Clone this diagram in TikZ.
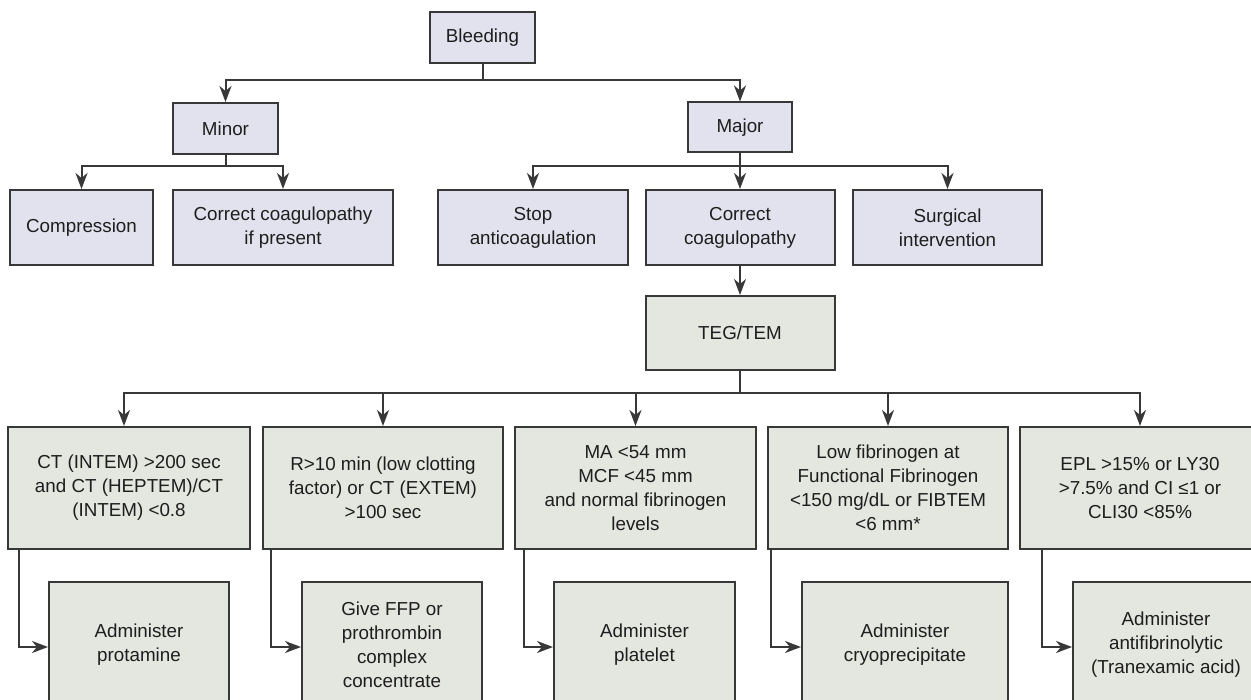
\documentclass[tikz,border=0pt]{standalone}
\usepackage{fontspec}
\setmainfont{Liberation Sans}
\usetikzlibrary{arrows.meta}
\definecolor{topfill}{HTML}{E2E2EE}
\definecolor{lowfill}{HTML}{E4E6E0}
\definecolor{edge}{HTML}{383838}
\definecolor{txt}{HTML}{1E1E1E}
\tikzset{
  basebox/.style={draw=edge, line width=2pt, rectangle, align=center, inner sep=2pt,
    text=txt, font=\fontsize{18.8}{24}\selectfont},
  topbox/.style={basebox, fill=topfill},
  lowbox/.style={basebox, fill=lowfill},
  conn/.style={draw=edge, line width=2pt},
  arr/.style={conn, -{Stealth[length=16pt,width=12pt,inset=5pt]}}
}
\begin{document}
\begin{tikzpicture}[x=1pt,y=-1pt]
\useasboundingbox (0,0) rectangle (1251,700);
\clip (0,0) rectangle (1251,700);
% top level
\node[topbox, minimum width=105, minimum height=51] (bleed) at (482.5,37.5) {Bleeding};
\node[topbox, minimum width=105, minimum height=51] (minor) at (225.5,128.5) {Minor};
\node[topbox, minimum width=104, minimum height=50] (major) at (740,127.5) {Major};
% second level
\node[topbox, minimum width=143, minimum height=75] (compr) at (81.5,227.5) {Compression};
\node[topbox, minimum width=220, minimum height=75] (ccif) at (283,227.5) {Correct coagulopathy\\if present};
\node[topbox, minimum width=190, minimum height=75] (stop) at (533,227.5) {Stop\\anticoagulation};
\node[topbox, minimum width=189, minimum height=75] (ccor) at (740,227.5) {Correct\\coagulopathy};
\node[topbox, minimum width=189, minimum height=75] (surg) at (947.5,227.5) {Surgical\\intervention};
% TEG
\node[lowbox, minimum width=189, minimum height=74] (teg) at (740,333) {TEG/TEM};
% criteria
\node[lowbox, minimum width=242, minimum height=122] (c1) at (129,488) {CT (INTEM) >200 sec\\and CT (HEPTEM)/CT\\(INTEM) <0.8};
\node[lowbox, minimum width=240, minimum height=122] (c2) at (383,488) {R>10 min (low clotting\\factor) or CT (EXTEM)\\>100 sec};
\node[lowbox, minimum width=241, minimum height=122] (c3) at (635.5,488) {MA <54 mm\\MCF <45 mm\\and normal fibrinogen\\levels};
\node[lowbox, minimum width=240, minimum height=122] (c4) at (888,488) {Low fibrinogen at\\Functional Fibrinogen\\<150 mg/dL or FIBTEM\\<6 mm*};
\node[lowbox, minimum width=240, minimum height=122] (c5) at (1140,488) {EPL >15\% or LY30\\>7.5\% and CI ≤1 or\\CLI30 <85\%};
% actions
\node[lowbox, minimum width=180, minimum height=126] (a1) at (139,645) {Administer\\protamine};
\node[lowbox, minimum width=180, minimum height=126] (a2) at (392,645) {Give FFP or\\prothrombin\\complex\\concentrate};
\node[lowbox, minimum width=181, minimum height=126] (a3) at (644.5,645) {Administer\\platelet};
\node[lowbox, minimum width=206, minimum height=126] (a4) at (905,645) {Administer\\cryoprecipitate};
\node[lowbox, minimum width=186, minimum height=126] (a5) at (1166,645) {Administer\\antifibrinolytic\\(Tranexamic acid)};
% connectors
\coordinate (j1) at (482.5,80);
\draw[conn] (bleed.south) -- (j1);
\draw[arr] (j1) -| (minor.north);
\draw[arr] (j1) -| (major.north);
\coordinate (j2) at (225.5,166);
\draw[conn] (minor.south) -- (j2);
\draw[arr] (j2) -| (compr.north);
\draw[arr] (j2) -| (ccif.north);
\coordinate (j3) at (740,166);
\draw[conn] (major.south) -- (j3);
\draw[arr] (j3) -| (stop.north);
\draw[arr] (j3) -- (ccor.north);
\draw[arr] (j3) -| (surg.north);
\draw[arr] (ccor.south) -- (teg.north);
\coordinate (j4) at (740,393);
\draw[conn] (teg.south) -- (j4);
\draw[arr] (j4) -| ([xshift=-5pt]c1.north);
\draw[arr] (j4) -| (c2.north);
\draw[arr] (j4) -| (c3.north);
\draw[arr] (j4) -| (c4.north);
\draw[arr] (j4) -| (c5.north);
\draw[arr] ([xshift=12pt]c1.south west) |- ([yshift=-2pt]a1.west);
\draw[arr] ([xshift=9pt]c2.south west) |- ([yshift=-2pt]a2.west);
\draw[arr] ([xshift=10pt]c3.south west) |- ([yshift=-2pt]a3.west);
\draw[arr] ([xshift=4pt]c4.south west) |- ([yshift=-2pt]a4.west);
\draw[arr] ([xshift=23pt]c5.south west) |- ([yshift=-2pt]a5.west);
\end{tikzpicture}
\end{document}
